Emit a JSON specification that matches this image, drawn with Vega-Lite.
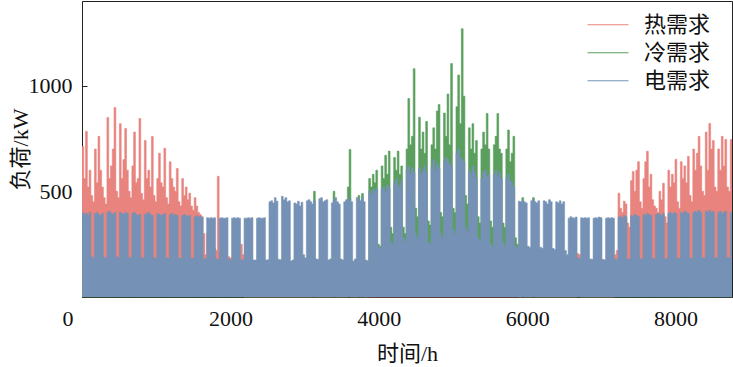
{
"$schema": "https://vega.github.io/schema/vega-lite/v6.json",
"width": 650, "height": 296,
"autosize": "none",
"padding": {"left": 82, "top": 1, "right": 1, "bottom": 70},
"background": "white",
"config": {"view": {"stroke": "#222", "strokeWidth": 1}, "font": "Liberation Serif"},
"data": {"values": [
{"h":0,"heat":712,"cool":0,"elec":400},{"h":24,"heat":560,"cool":0,"elec":390},{"h":48,"heat":783,"cool":0,"elec":395},{"h":72,"heat":520,"cool":0,"elec":385},{"h":96,"heat":600,"cool":0,"elec":400},{"h":120,"heat":480,"cool":0,"elec":190},{"h":144,"heat":450,"cool":0,"elec":185},
{"h":168,"heat":700,"cool":0,"elec":395},{"h":192,"heat":540,"cool":0,"elec":400},{"h":216,"heat":760,"cool":0,"elec":390},{"h":240,"heat":600,"cool":0,"elec":385},{"h":264,"heat":520,"cool":0,"elec":395},{"h":288,"heat":470,"cool":0,"elec":188},{"h":312,"heat":440,"cool":0,"elec":185},
{"h":336,"heat":849,"cool":0,"elec":400},{"h":360,"heat":560,"cool":0,"elec":405},{"h":384,"heat":620,"cool":0,"elec":395},{"h":408,"heat":700,"cool":0,"elec":390},{"h":432,"heat":896,"cool":0,"elec":400},{"h":456,"heat":500,"cool":0,"elec":190},{"h":480,"heat":470,"cool":0,"elec":185},
{"h":504,"heat":820,"cool":0,"elec":400},{"h":528,"heat":560,"cool":0,"elec":395},{"h":552,"heat":650,"cool":0,"elec":390},{"h":576,"heat":797,"cool":0,"elec":400},{"h":600,"heat":600,"cool":0,"elec":395},{"h":624,"heat":500,"cool":0,"elec":188},{"h":648,"heat":470,"cool":0,"elec":184},
{"h":672,"heat":620,"cool":0,"elec":395},{"h":696,"heat":780,"cool":0,"elec":400},{"h":720,"heat":540,"cool":0,"elec":390},{"h":744,"heat":560,"cool":0,"elec":385},{"h":768,"heat":844,"cool":0,"elec":390},{"h":792,"heat":490,"cool":0,"elec":186},{"h":816,"heat":460,"cool":0,"elec":184},
{"h":840,"heat":740,"cool":0,"elec":390},{"h":864,"heat":560,"cool":0,"elec":395},{"h":888,"heat":600,"cool":0,"elec":400},{"h":912,"heat":520,"cool":0,"elec":390},{"h":936,"heat":759,"cool":0,"elec":385},{"h":960,"heat":480,"cool":0,"elec":186},{"h":984,"heat":450,"cool":0,"elec":183},
{"h":1008,"heat":560,"cool":0,"elec":395},{"h":1032,"heat":680,"cool":0,"elec":390},{"h":1056,"heat":540,"cool":0,"elec":385},{"h":1080,"heat":520,"cool":0,"elec":390},{"h":1104,"heat":703,"cool":0,"elec":395},{"h":1128,"heat":470,"cool":0,"elec":185},{"h":1152,"heat":440,"cool":0,"elec":183},
{"h":1176,"heat":640,"cool":0,"elec":390},{"h":1200,"heat":560,"cool":0,"elec":395},{"h":1224,"heat":520,"cool":0,"elec":385},{"h":1248,"heat":500,"cool":0,"elec":390},{"h":1272,"heat":608,"cool":0,"elec":385},{"h":1296,"heat":450,"cool":0,"elec":185},{"h":1320,"heat":430,"cool":0,"elec":182},
{"h":1344,"heat":560,"cool":0,"elec":385},{"h":1368,"heat":480,"cool":0,"elec":390},{"h":1392,"heat":520,"cool":0,"elec":385},{"h":1416,"heat":460,"cool":0,"elec":380},{"h":1440,"heat":491,"cool":0,"elec":385},{"h":1464,"heat":430,"cool":0,"elec":184},{"h":1488,"heat":410,"cool":0,"elec":182},
{"h":1512,"heat":470,"cool":0,"elec":380},{"h":1536,"heat":430,"cool":0,"elec":385},{"h":1560,"heat":400,"cool":0,"elec":380},{"h":1584,"heat":390,"cool":0,"elec":380},{"h":1608,"heat":380,"cool":0,"elec":378},{"h":1632,"heat":300,"cool":0,"elec":182},{"h":1656,"heat":200,"cool":0,"elec":180},
{"h":1680,"heat":300,"cool":0,"elec":375},{"h":1704,"heat":280,"cool":0,"elec":373},{"h":1728,"heat":250,"cool":0,"elec":375},{"h":1752,"heat":240,"cool":0,"elec":373},{"h":1776,"heat":230,"cool":0,"elec":375},{"h":1800,"heat":220,"cool":0,"elec":180},{"h":1824,"heat":571,"cool":0,"elec":178},
{"h":1848,"heat":200,"cool":0,"elec":373},{"h":1872,"heat":190,"cool":0,"elec":375},{"h":1896,"heat":180,"cool":0,"elec":373},{"h":1920,"heat":170,"cool":0,"elec":373},{"h":1944,"heat":160,"cool":0,"elec":375},{"h":1968,"heat":190,"cool":0,"elec":178},{"h":1992,"heat":185,"cool":0,"elec":176},
{"h":2016,"heat":150,"cool":0,"elec":373},{"h":2040,"heat":140,"cool":0,"elec":375},{"h":2064,"heat":130,"cool":0,"elec":373},{"h":2088,"heat":120,"cool":0,"elec":375},{"h":2112,"heat":110,"cool":0,"elec":373},{"h":2136,"heat":250,"cool":0,"elec":176},{"h":2160,"heat":200,"cool":0,"elec":175},
{"h":2184,"heat":0,"cool":0,"elec":373},{"h":2208,"heat":0,"cool":0,"elec":373},{"h":2232,"heat":0,"cool":0,"elec":375},{"h":2256,"heat":0,"cool":0,"elec":373},{"h":2280,"heat":0,"cool":0,"elec":375},{"h":2304,"heat":0,"cool":0,"elec":175},{"h":2328,"heat":0,"cool":0,"elec":175},
{"h":2352,"heat":0,"cool":0,"elec":373},{"h":2376,"heat":0,"cool":0,"elec":375},{"h":2400,"heat":0,"cool":0,"elec":373},{"h":2424,"heat":0,"cool":0,"elec":373},{"h":2448,"heat":0,"cool":0,"elec":375},{"h":2472,"heat":0,"cool":0,"elec":175},{"h":2496,"heat":0,"cool":0,"elec":176},
{"h":2520,"heat":0,"cool":0,"elec":450},{"h":2544,"heat":0,"cool":0,"elec":455},{"h":2568,"heat":0,"cool":0,"elec":445},{"h":2592,"heat":0,"cool":0,"elec":470},{"h":2616,"heat":0,"cool":0,"elec":453},{"h":2640,"heat":0,"cool":0,"elec":178},{"h":2664,"heat":0,"cool":0,"elec":176},
{"h":2688,"heat":0,"cool":0,"elec":476},{"h":2712,"heat":0,"cool":0,"elec":460},{"h":2736,"heat":0,"cool":0,"elec":470},{"h":2760,"heat":0,"cool":0,"elec":450},{"h":2784,"heat":0,"cool":0,"elec":455},{"h":2808,"heat":0,"cool":0,"elec":170},{"h":2832,"heat":0,"cool":0,"elec":175},
{"h":2856,"heat":0,"cool":0,"elec":445},{"h":2880,"heat":0,"cool":0,"elec":440},{"h":2904,"heat":0,"cool":0,"elec":453},{"h":2928,"heat":0,"cool":0,"elec":430},{"h":2952,"heat":0,"cool":0,"elec":448},{"h":2976,"heat":0,"cool":0,"elec":200},{"h":3000,"heat":0,"cool":0,"elec":185},
{"h":3024,"heat":0,"cool":0,"elec":455},{"h":3048,"heat":0,"cool":0,"elec":460},{"h":3072,"heat":0,"cool":0,"elec":450},{"h":3096,"heat":0,"cool":0,"elec":440},{"h":3120,"heat":0,"cool":500,"elec":455},{"h":3144,"heat":0,"cool":0,"elec":180},{"h":3168,"heat":0,"cool":0,"elec":178},
{"h":3192,"heat":0,"cool":0,"elec":465},{"h":3216,"heat":0,"cool":0,"elec":470},{"h":3240,"heat":0,"cool":0,"elec":450},{"h":3264,"heat":0,"cool":0,"elec":455},{"h":3288,"heat":0,"cool":0,"elec":460},{"h":3312,"heat":0,"cool":0,"elec":175},{"h":3336,"heat":0,"cool":0,"elec":180},
{"h":3360,"heat":0,"cool":0,"elec":445},{"h":3384,"heat":0,"cool":500,"elec":455},{"h":3408,"heat":0,"cool":0,"elec":470},{"h":3432,"heat":0,"cool":0,"elec":450},{"h":3456,"heat":0,"cool":0,"elec":440},{"h":3480,"heat":0,"cool":0,"elec":180},{"h":3504,"heat":0,"cool":0,"elec":175},
{"h":3528,"heat":0,"cool":0,"elec":450},{"h":3552,"heat":0,"cool":0,"elec":460},{"h":3576,"heat":0,"cool":520,"elec":455},{"h":3600,"heat":0,"cool":698,"elec":465},{"h":3624,"heat":0,"cool":0,"elec":450},{"h":3648,"heat":0,"cool":0,"elec":170},{"h":3672,"heat":0,"cool":0,"elec":180},
{"h":3696,"heat":0,"cool":0,"elec":470},{"h":3720,"heat":0,"cool":480,"elec":460},{"h":3744,"heat":0,"cool":0,"elec":455},{"h":3768,"heat":0,"cool":490,"elec":475},{"h":3792,"heat":0,"cool":0,"elec":450},{"h":3816,"heat":0,"cool":0,"elec":175},{"h":3840,"heat":0,"cool":0,"elec":172},
{"h":3864,"heat":0,"cool":560,"elec":500},{"h":3888,"heat":0,"cool":520,"elec":486},{"h":3912,"heat":0,"cool":580,"elec":510},{"h":3936,"heat":0,"cool":540,"elec":500},{"h":3960,"heat":0,"cool":600,"elec":514},{"h":3984,"heat":0,"cool":250,"elec":240},{"h":4008,"heat":0,"cool":240,"elec":230},
{"h":4032,"heat":0,"cool":620,"elec":510},{"h":4056,"heat":0,"cool":560,"elec":520},{"h":4080,"heat":0,"cool":670,"elec":500},{"h":4104,"heat":0,"cool":580,"elec":530},{"h":4128,"heat":0,"cool":690,"elec":515},{"h":4152,"heat":0,"cool":330,"elec":260},{"h":4176,"heat":0,"cool":300,"elec":250},
{"h":4200,"heat":0,"cool":660,"elec":540},{"h":4224,"heat":0,"cool":600,"elec":560},{"h":4248,"heat":0,"cool":690,"elec":530},{"h":4272,"heat":0,"cool":580,"elec":520},{"h":4296,"heat":0,"cool":620,"elec":550},{"h":4320,"heat":0,"cool":330,"elec":280},{"h":4344,"heat":0,"cool":300,"elec":260},
{"h":4368,"heat":0,"cool":700,"elec":600},{"h":4392,"heat":0,"cool":939,"elec":620},{"h":4416,"heat":0,"cool":720,"elec":580},{"h":4440,"heat":0,"cool":760,"elec":610},{"h":4464,"heat":0,"cool":1080,"elec":590},{"h":4488,"heat":0,"cool":420,"elec":300},{"h":4512,"heat":0,"cool":380,"elec":280},
{"h":4536,"heat":0,"cool":850,"elec":610},{"h":4560,"heat":0,"cool":700,"elec":580},{"h":4584,"heat":0,"cool":780,"elec":600},{"h":4608,"heat":0,"cool":680,"elec":620},{"h":4632,"heat":0,"cool":830,"elec":590},{"h":4656,"heat":0,"cool":360,"elec":260},{"h":4680,"heat":0,"cool":340,"elec":250},
{"h":4704,"heat":0,"cool":720,"elec":620},{"h":4728,"heat":0,"cool":800,"elec":650},{"h":4752,"heat":0,"cool":700,"elec":600},{"h":4776,"heat":0,"cool":880,"elec":630},{"h":4800,"heat":0,"cool":910,"elec":610},{"h":4824,"heat":0,"cool":400,"elec":300},{"h":4848,"heat":0,"cool":380,"elec":280},
{"h":4872,"heat":0,"cool":870,"elec":640},{"h":4896,"heat":0,"cool":760,"elec":660},{"h":4920,"heat":0,"cool":960,"elec":650},{"h":4944,"heat":0,"cool":720,"elec":630},{"h":4968,"heat":0,"cool":1104,"elec":620},{"h":4992,"heat":0,"cool":420,"elec":320},{"h":5016,"heat":0,"cool":400,"elec":300},
{"h":5040,"heat":0,"cool":900,"elec":680},{"h":5064,"heat":0,"cool":1050,"elec":700},{"h":5088,"heat":0,"cool":820,"elec":660},{"h":5112,"heat":0,"cool":1269,"elec":650},{"h":5136,"heat":0,"cool":950,"elec":640},{"h":5160,"heat":0,"cool":480,"elec":330},{"h":5184,"heat":0,"cool":440,"elec":310},
{"h":5208,"heat":0,"cool":800,"elec":600},{"h":5232,"heat":0,"cool":700,"elec":580},{"h":5256,"heat":0,"cool":820,"elec":620},{"h":5280,"heat":0,"cool":680,"elec":590},{"h":5304,"heat":0,"cool":740,"elec":560},{"h":5328,"heat":0,"cool":380,"elec":280},{"h":5352,"heat":0,"cool":350,"elec":260},
{"h":5376,"heat":0,"cool":700,"elec":560},{"h":5400,"heat":0,"cool":780,"elec":590},{"h":5424,"heat":0,"cool":720,"elec":600},{"h":5448,"heat":0,"cool":868,"elec":570},{"h":5472,"heat":0,"cool":700,"elec":580},{"h":5496,"heat":0,"cool":360,"elec":250},{"h":5520,"heat":0,"cool":330,"elec":240},
{"h":5544,"heat":0,"cool":720,"elec":580},{"h":5568,"heat":0,"cool":760,"elec":600},{"h":5592,"heat":0,"cool":868,"elec":570},{"h":5616,"heat":0,"cool":700,"elec":590},{"h":5640,"heat":0,"cool":680,"elec":560},{"h":5664,"heat":0,"cool":350,"elec":260},{"h":5688,"heat":0,"cool":330,"elec":240},
{"h":5712,"heat":0,"cool":700,"elec":560},{"h":5736,"heat":0,"cool":790,"elec":580},{"h":5760,"heat":0,"cool":640,"elec":550},{"h":5784,"heat":0,"cool":680,"elec":540},{"h":5808,"heat":0,"cool":760,"elec":520},{"h":5832,"heat":0,"cool":280,"elec":240},{"h":5856,"heat":0,"cool":250,"elec":230},
{"h":5880,"heat":0,"cool":0,"elec":453},{"h":5904,"heat":0,"cool":0,"elec":450},{"h":5928,"heat":0,"cool":470,"elec":455},{"h":5952,"heat":0,"cool":0,"elec":450},{"h":5976,"heat":0,"cool":0,"elec":445},{"h":6000,"heat":0,"cool":0,"elec":240},{"h":6024,"heat":0,"cool":0,"elec":235},
{"h":6048,"heat":0,"cool":0,"elec":455},{"h":6072,"heat":0,"cool":470,"elec":460},{"h":6096,"heat":0,"cool":0,"elec":450},{"h":6120,"heat":0,"cool":0,"elec":445},{"h":6144,"heat":0,"cool":0,"elec":455},{"h":6168,"heat":0,"cool":0,"elec":235},{"h":6192,"heat":0,"cool":0,"elec":230},
{"h":6216,"heat":0,"cool":0,"elec":455},{"h":6240,"heat":0,"cool":0,"elec":450},{"h":6264,"heat":0,"cool":0,"elec":440},{"h":6288,"heat":0,"cool":0,"elec":460},{"h":6312,"heat":0,"cool":0,"elec":450},{"h":6336,"heat":0,"cool":0,"elec":230},{"h":6360,"heat":0,"cool":0,"elec":225},
{"h":6384,"heat":0,"cool":0,"elec":450},{"h":6408,"heat":0,"cool":0,"elec":445},{"h":6432,"heat":0,"cool":0,"elec":455},{"h":6456,"heat":0,"cool":0,"elec":440},{"h":6480,"heat":0,"cool":0,"elec":450},{"h":6504,"heat":0,"cool":0,"elec":220},{"h":6528,"heat":0,"cool":0,"elec":200},
{"h":6552,"heat":0,"cool":0,"elec":373},{"h":6576,"heat":0,"cool":0,"elec":380},{"h":6600,"heat":0,"cool":0,"elec":375},{"h":6624,"heat":0,"cool":0,"elec":373},{"h":6648,"heat":0,"cool":0,"elec":378},{"h":6672,"heat":205,"cool":0,"elec":185},{"h":6696,"heat":200,"cool":0,"elec":180},
{"h":6720,"heat":0,"cool":0,"elec":375},{"h":6744,"heat":0,"cool":0,"elec":373},{"h":6768,"heat":0,"cool":0,"elec":375},{"h":6792,"heat":0,"cool":0,"elec":373},{"h":6816,"heat":0,"cool":0,"elec":375},{"h":6840,"heat":0,"cool":0,"elec":180},{"h":6864,"heat":0,"cool":0,"elec":178},
{"h":6888,"heat":0,"cool":0,"elec":373},{"h":6912,"heat":0,"cool":0,"elec":375},{"h":6936,"heat":0,"cool":0,"elec":373},{"h":6960,"heat":0,"cool":0,"elec":378},{"h":6984,"heat":0,"cool":0,"elec":375},{"h":7008,"heat":0,"cool":0,"elec":178},{"h":7032,"heat":0,"cool":0,"elec":176},
{"h":7056,"heat":0,"cool":0,"elec":373},{"h":7080,"heat":0,"cool":0,"elec":375},{"h":7104,"heat":0,"cool":0,"elec":373},{"h":7128,"heat":0,"cool":0,"elec":375},{"h":7152,"heat":0,"cool":0,"elec":373},{"h":7176,"heat":200,"cool":0,"elec":178},{"h":7200,"heat":220,"cool":0,"elec":176},
{"h":7224,"heat":491,"cool":0,"elec":378},{"h":7248,"heat":420,"cool":0,"elec":380},{"h":7272,"heat":400,"cool":0,"elec":373},{"h":7296,"heat":453,"cool":0,"elec":385},{"h":7320,"heat":440,"cool":0,"elec":380},{"h":7344,"heat":350,"cool":0,"elec":180},{"h":7368,"heat":330,"cool":0,"elec":178},
{"h":7392,"heat":550,"cool":0,"elec":385},{"h":7416,"heat":594,"cool":0,"elec":380},{"h":7440,"heat":500,"cool":0,"elec":390},{"h":7464,"heat":600,"cool":0,"elec":385},{"h":7488,"heat":640,"cool":0,"elec":380},{"h":7512,"heat":450,"cool":0,"elec":182},{"h":7536,"heat":420,"cool":0,"elec":180},
{"h":7560,"heat":560,"cool":0,"elec":390},{"h":7584,"heat":640,"cool":0,"elec":385},{"h":7608,"heat":689,"cool":0,"elec":395},{"h":7632,"heat":520,"cool":0,"elec":390},{"h":7656,"heat":580,"cool":0,"elec":385},{"h":7680,"heat":460,"cool":0,"elec":183},{"h":7704,"heat":430,"cool":0,"elec":180},
{"h":7728,"heat":420,"cool":0,"elec":390},{"h":7752,"heat":400,"cool":0,"elec":395},{"h":7776,"heat":500,"cool":0,"elec":390},{"h":7800,"heat":460,"cool":0,"elec":385},{"h":7824,"heat":538,"cool":0,"elec":395},{"h":7848,"heat":380,"cool":0,"elec":182},{"h":7872,"heat":350,"cool":0,"elec":180},
{"h":7896,"heat":600,"cool":0,"elec":395},{"h":7920,"heat":520,"cool":0,"elec":400},{"h":7944,"heat":580,"cool":0,"elec":390},{"h":7968,"heat":540,"cool":0,"elec":400},{"h":7992,"heat":651,"cool":0,"elec":395},{"h":8016,"heat":450,"cool":0,"elec":184},{"h":8040,"heat":420,"cool":0,"elec":182},
{"h":8064,"heat":640,"cool":0,"elec":400},{"h":8088,"heat":560,"cool":0,"elec":395},{"h":8112,"heat":620,"cool":0,"elec":405},{"h":8136,"heat":540,"cool":0,"elec":400},{"h":8160,"heat":665,"cool":0,"elec":395},{"h":8184,"heat":480,"cool":0,"elec":185},{"h":8208,"heat":450,"cool":0,"elec":183},
{"h":8232,"heat":700,"cool":0,"elec":400},{"h":8256,"heat":600,"cool":0,"elec":405},{"h":8280,"heat":680,"cool":0,"elec":400},{"h":8304,"heat":760,"cool":0,"elec":410},{"h":8328,"heat":620,"cool":0,"elec":400},{"h":8352,"heat":500,"cool":0,"elec":186},{"h":8376,"heat":480,"cool":0,"elec":184},
{"h":8400,"heat":780,"cool":0,"elec":405},{"h":8424,"heat":600,"cool":0,"elec":400},{"h":8448,"heat":821,"cool":0,"elec":410},{"h":8472,"heat":700,"cool":0,"elec":400},{"h":8496,"heat":740,"cool":0,"elec":405},{"h":8520,"heat":520,"cool":0,"elec":186},{"h":8544,"heat":500,"cool":0,"elec":185},
{"h":8568,"heat":700,"cool":0,"elec":400},{"h":8592,"heat":600,"cool":0,"elec":405},{"h":8616,"heat":760,"cool":0,"elec":395},{"h":8640,"heat":620,"cool":0,"elec":400},{"h":8664,"heat":745,"cool":0,"elec":405},{"h":8688,"heat":520,"cool":0,"elec":186},{"h":8712,"heat":500,"cool":0,"elec":185},
{"h":8736,"heat":745,"cool":0,"elec":400},{"h":8760,"heat":745,"cool":0,"elec":400}
]},
"encoding": {
  "x": {"field": "h", "type": "quantitative", "scale": {"domain": [0, 8760], "nice": false},
    "axis": {"title": "时间/h", "values": [0, 2000, 4000, 6000, 8000], "format": "d", "grid": false,
      "labelFont": "Liberation Serif", "labelFontSize": 22, "labelColor": "#111",
      "tickSize": -5, "tickColor": "#222", "domainColor": "#222", "labelPadding": 16,
      "labelFlush": false,
      "labelAlign": {"condition": {"test": "datum.value === 0", "value": "right"}, "value": "center"},
      "labelOffset": {"condition": {"test": "datum.value === 0", "value": -9}, "value": 0},
      "titleFont": "Liberation Serif, Noto Sans CJK SC", "titleFontSize": 22, "titleFontWeight": "normal", "titleColor": "#111", "titlePadding": 14}}
},
"layer": [
  {"mark": {"type": "area", "interpolate": "step-after", "color": "#E8837E"},
   "encoding": {"y": {"field": "heat", "type": "quantitative", "title": "负荷/kW", "scale": {"domain": [0, 1400], "nice": false},
     "axis": {"values": [500, 1000], "format": "d", "grid": false, "labelFont": "Liberation Serif", "labelFontSize": 22, "labelColor": "#111",
       "tickSize": -5, "tickColor": "#222", "domainColor": "#222", "labelPadding": 15,
       "titleFont": "Liberation Serif, Noto Sans CJK SC", "titleFontSize": 22, "titleFontWeight": "normal", "titleColor": "#111", "titlePadding": -4}}}},
  {"mark": {"type": "line", "interpolate": "step-after", "strokeWidth": 0.6},
   "encoding": {"y": {"field": "heat", "type": "quantitative", "title": "负荷/kW"},
     "color": {"datum": "热需求", "scale": {"domain": ["热需求", "冷需求", "电需求"], "range": ["#E8837E", "#5B9F5E", "#7592B6"]},
       "legend": {"title": null, "orient": "none", "legendX": 505, "legendY": 10, "padding": 0, "symbolType": "stroke", "symbolSize": 1681, "symbolStrokeWidth": 1,
         "clipHeight": 27.5, "labelFont": "Liberation Serif, Noto Sans CJK SC", "labelFontSize": 22, "labelColor": "#111", "rowPadding": 0, "labelOffset": 15}}}},
  {"mark": {"type": "area", "interpolate": "step-after", "color": "#5B9F5E"},
   "encoding": {"y": {"field": "cool", "type": "quantitative", "title": "负荷/kW"}}},
  {"mark": {"type": "line", "interpolate": "step-after", "strokeWidth": 0.6},
   "encoding": {"y": {"field": "cool", "type": "quantitative", "title": "负荷/kW"}, "color": {"datum": "冷需求"}}},
  {"mark": {"type": "area", "interpolate": "step-after", "color": "#7592B6"},
   "encoding": {"y": {"field": "elec", "type": "quantitative", "title": "负荷/kW"}}},
  {"mark": {"type": "line", "interpolate": "step-after", "strokeWidth": 0.6},
   "encoding": {"y": {"field": "elec", "type": "quantitative", "title": "负荷/kW"}, "color": {"datum": "电需求"}}}
]
}
